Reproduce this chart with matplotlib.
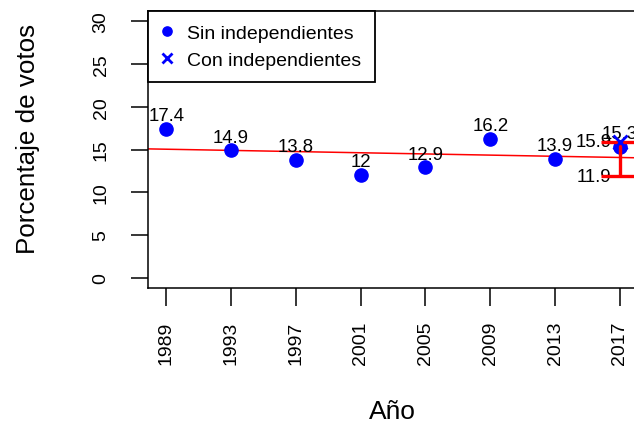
import numpy as np
import matplotlib.pyplot as plt

plt.rcParams['font.family'] = ['Liberation Sans', 'DejaVu Sans']

# votos por elección
anios = [1989, 1993, 1997, 2001, 2005, 2009, 2013, 2017]
sin_indep = [17.4, 14.9, 13.8, 12, 12.9, 16.2, 13.9, 15.3]
con_indep_anio = 2017
con_indep = 15.9
rango_bajo = 11.9
rango_alto = 15.9
y_ticks = [0, 5, 10, 15, 20, 25, 30]

W, H = 634, 427
fig = plt.figure(figsize=(W / 100, H / 100), dpi=100)
ax = fig.add_axes([148 / W, (H - 289) / H, (638 - 148) / W, (289 - 12) / H])

# recta de regresión
b, a = np.polyfit(anios, sin_indep, 1)
ax.axline((anios[0], a + b * anios[0]), slope=b, color='red', lw=1.1, zorder=2)

ax.plot(anios, sin_indep, 'o', color='blue', ms=9.5, label='Sin independientes', zorder=3)
ax.errorbar([con_indep_anio], [rango_alto], yerr=[[rango_alto - rango_bajo], [0]],
            fmt='none', ecolor='red', elinewidth=2.4, capsize=14, capthick=2.4, zorder=4)
ax.plot([con_indep_anio], [con_indep], 'x', color='blue', ms=10, mew=2,
        label='Con independientes', zorder=5)

for x, v in zip(anios, sin_indep):
    ax.annotate(f'{v:g}', (x, v), xytext=(0, 6.3), textcoords='offset points',
                ha='center', va='baseline', fontsize=13.4)
ax.annotate(f'{con_indep:g}', (con_indep_anio, con_indep), xytext=(-6, 0),
            textcoords='offset points', ha='right', va='center', fontsize=13.4)
ax.annotate(f'{rango_bajo:g}', (con_indep_anio, rango_bajo), xytext=(-6, 0),
            textcoords='offset points', ha='right', va='center', fontsize=13.4)

ax.set_xlim(1987.88, 2018.12)
ax.set_ylim(-1.2, 31.2)
ax.set_xticks(anios)
ax.set_yticks(y_ticks)
ax.tick_params(direction='out', length=12.6, width=1.1, labelsize=14)
ax.tick_params(axis='x', pad=11)
ax.tick_params(axis='y', pad=15)
plt.setp(ax.get_xticklabels(), rotation=90)
plt.setp(ax.get_yticklabels(), rotation=90, va='center')
for s in ax.spines.values():
    s.set_linewidth(1.1)

ax.set_xlabel('Año', fontsize=19)
ax.set_ylabel('Porcentaje de votos', fontsize=18.7)
ax.xaxis.label.set_va('center')
ax.yaxis.label.set_va('center')
ax.xaxis.set_label_coords(0.498, -0.444)
ax.yaxis.set_label_coords(-0.245, 0.54)

leg = ax.legend(loc='upper left', bbox_to_anchor=(0, 1), borderaxespad=0,
                fancybox=False, edgecolor='black', framealpha=1, fontsize=14,
                borderpad=0.7, labelspacing=0.45, handlelength=0.56,
                handletextpad=0.75, markerscale=0.7)
leg.get_frame().set_linewidth(1.3)

fig.savefig('out.png', dpi=100)
